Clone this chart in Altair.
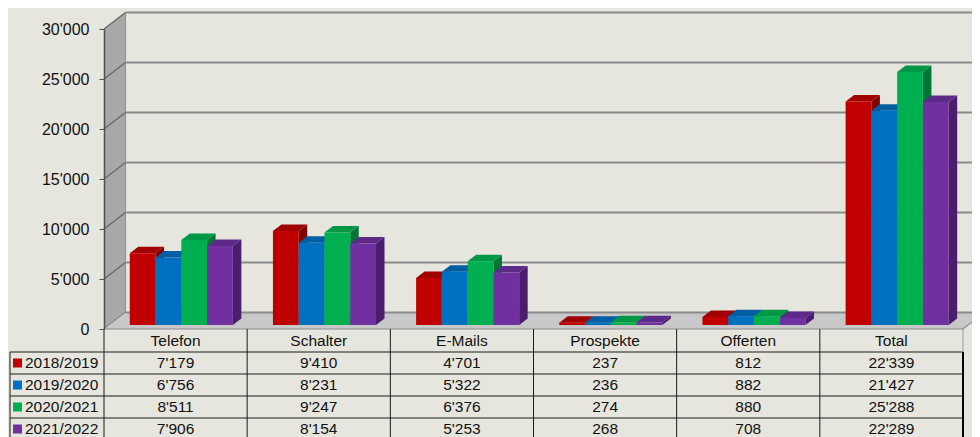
import altair as alt
import pandas as pd

# ---------------- data ----------------
categories = ["Telefon", "Schalter", "E-Mails", "Prospekte", "Offerten", "Total"]
series = ["2018/2019", "2019/2020", "2020/2021", "2021/2022"]
values_2018 = [7179, 9410, 4701, 237, 812, 22339]
values_2019 = [6756, 8231, 5322, 236, 882, 21427]
values_2020 = [8511, 9247, 6376, 274, 880, 25288]
values_2021 = [7906, 8154, 5253, 268, 708, 22289]
y_ticks = [0, 5000, 10000, 15000, 20000, 25000, 30000]

front_colors = ["#C00000", "#0070C0", "#00B050", "#7030A0"]
top_colors = ["#A00000", "#005EA2", "#009846", "#5E2A8A"]
side_colors = ["#7C0000", "#004C80", "#007636", "#4A1E6C"]

BG = "#E6E6DE"
FONT = "Liberation Sans"

# ---------------- layout (pixel geometry -> scale units) ----------------
W, H = 859, 300
YMAX = 30000
NCAT = len(categories)
UX = W / NCAT                 # px per category
UY = H / YMAX                 # px per value unit


def px_x(p):
    return p / UX


def px_y(p):
    return p / UY


DX, DY = px_x(21.5), px_y(16.5)        # full depth of the 3D box
BASE = px_y(4)                          # bars sit a little behind the front edge
BDX, BDY = px_x(8.5), px_y(6.5)         # depth of a bar
BAR_START, BAR_W = 0.18, 0.18

XS = alt.Scale(domain=[0, NCAT], nice=False, zero=False)
YS = alt.Scale(domain=[0, YMAX], nice=False, zero=False)

y_axis = alt.Axis(
    values=y_ticks,
    labelExpr="replace(format(datum.value, ','), ',', \"'\")",
    grid=False,
    domain=True,
    domainColor="#505050",
    domainWidth=1.5,
    ticks=True,
    tickColor="#505050",
    tickSize=5,
    labelPadding=10,
    labelFont=FONT,
    labelFontSize=16,
    labelColor="#111111",
    title=None,
    zindex=2,
)


def X(f):
    return alt.X(f"{f}:Q", scale=XS, axis=None, stack=None)


def Y(f):
    return alt.Y(f"{f}:Q", scale=YS, axis=y_axis, stack=None)


def rules(rows, color, width):
    return alt.Chart(pd.DataFrame(rows)).mark_rule(color=color, strokeWidth=width).encode(
        x=X("x"), x2="x2", y=Y("y"), y2="y2"
    )


def vface(rows, color):
    # parallelogram with vertical sides
    return alt.Chart(pd.DataFrame(rows)).mark_area(color=color, orient="vertical").encode(
        x=X("x"), y=Y("ylo"), y2="yhi"
    )


def hface(rows, color):
    # parallelogram with horizontal sides
    return alt.Chart(pd.DataFrame(rows)).mark_area(color=color, orient="horizontal").encode(
        y=Y("y"), x=X("xl"), x2="xr"
    )


# ---------------- 3D frame ----------------
wall = vface([
    {"x": 0, "ylo": 0, "yhi": YMAX},
    {"x": DX, "ylo": DY, "yhi": YMAX + DY},
], "#A8A8A8")
wall_back = rules([{"x": DX, "x2": DX, "y": DY, "y2": YMAX + DY}], "#8E8E8E", 1)
wall_diag = rules([{"x": 0, "x2": DX, "y": v, "y2": v + DY} for v in y_ticks], "#6A6A6A", 1.5)
grid = rules([{"x": DX, "x2": NCAT + 0.3, "y": v + DY, "y2": v + DY}
              for v in y_ticks[1:]], "#8A8A8A", 2)

floor = hface([
    {"y": 0, "xl": 0, "xr": NCAT},
    {"y": DY, "xl": DX, "xr": NCAT + DX},
], "#C8C8C8")
floor_back = rules([{"x": DX, "x2": NCAT + 0.3, "y": DY, "y2": DY}], "#8A8A8A", 2)
floor_front = rules([{"x": 0, "x2": NCAT, "y": 0, "y2": 0},
                     {"x": NCAT, "x2": NCAT + DX, "y": 0, "y2": DY}],
                    "#8C8C8C", 1.2)

# ---------------- bars ----------------
values = [values_2018, values_2019, values_2020, values_2021]
fronts = []
side_layers, top_layers = [], []
for s, (name, vals) in enumerate(zip(series, values)):
    for i, v in enumerate(vals):
        x0 = i + BAR_START + s * BAR_W
        x1 = x0 + BAR_W
        fronts.append({"series": name, "x0": x0, "x1": x1, "y0": BASE, "y1": BASE + v})
        side_layers.append(vface([
            {"x": x1, "ylo": BASE, "yhi": BASE + v},
            {"x": x1 + BDX, "ylo": BASE + BDY, "yhi": BASE + v + BDY},
        ], side_colors[s]))
        top_layers.append(hface([
            {"y": BASE + v, "xl": x0, "xr": x1},
            {"y": BASE + v + BDY, "xl": x0 + BDX, "xr": x1 + BDX},
        ], top_colors[s]))

bar_front = alt.Chart(pd.DataFrame(fronts)).mark_rect().encode(
    x=X("x0"), x2="x1", y=Y("y0"), y2="y1",
    color=alt.Color("series:N", scale=alt.Scale(domain=series, range=front_colors), legend=None),
)

# ---------------- data table ----------------
ROW_PX = [0, 23, 45, 67, 89, 111]          # row borders below the zero line
row_b = [-px_y(p) for p in ROW_PX]
row_c = [(row_b[k] + row_b[k + 1]) / 2 for k in range(5)]
LEFT = px_x(10 - 104)

tlines = []
for k in range(NCAT):
    tlines.append({"x": k, "x2": k, "y": 0, "y2": row_b[-1]})
tlines.append({"x": LEFT, "x2": LEFT, "y": row_b[1], "y2": row_b[-1]})
for k in range(1, 5):
    tlines.append({"x": LEFT, "x2": NCAT, "y": row_b[k], "y2": row_b[k]})
table_lines = rules(tlines, "#1A1A1A", 1)
table_right_head = rules([{"x": NCAT, "x2": NCAT, "y": 0, "y2": row_b[1]}], "#9A9A9A", 1)
table_right = rules([{"x": NCAT, "x2": NCAT, "y": row_b[1], "y2": row_b[-1]}], "#000000", 2)

cells = []
for i, c in enumerate(categories):
    cells.append({"x": i + 0.5, "y": row_c[0], "label": c})
for s, vals in enumerate(values):
    for i, v in enumerate(vals):
        cells.append({"x": i + 0.5, "y": row_c[s + 1], "label": f"{v:,}".replace(",", "'")})
cell_text = alt.Chart(pd.DataFrame(cells)).mark_text(
    font=FONT, fontSize=15.5, color="#111111", align="center", baseline="middle"
).encode(x=X("x"), y=Y("y"), text="label:N")

row_lab = pd.DataFrame({
    "series": series,
    "x": [px_x(25 - 104)] * 4,
    "y": row_c[1:],
    "sx0": [px_x(13 - 104)] * 4,
    "sx1": [px_x(22 - 104)] * 4,
    "sy0": [c - px_y(4.5) for c in row_c[1:]],
    "sy1": [c + px_y(4.5) for c in row_c[1:]],
})
row_text = alt.Chart(row_lab).mark_text(
    font=FONT, fontSize=15.5, color="#111111", align="left", baseline="middle"
).encode(x=X("x"), y=Y("y"), text="series:N")
row_sq = alt.Chart(row_lab).mark_rect().encode(
    x=X("sx0"), x2="sx1", y=Y("sy0"), y2="sy1",
    color=alt.Color("series:N", scale=alt.Scale(domain=series, range=front_colors), legend=None),
)

chart = alt.layer(
    wall, wall_back, wall_diag, grid, floor, floor_back, floor_front,
    *side_layers, *top_layers, bar_front,
    table_lines, table_right_head, table_right, row_sq, cell_text, row_text,
).properties(
    width=W,
    height=H,
    padding={"left": 96, "top": 21, "right": 9, "bottom": 108},
    autosize=alt.AutoSizeParams(type="none"),
    background=BG,
).configure_view(stroke="transparent")

chart.save("out.html", embed_options={"renderer": "svg", "actions": False})
